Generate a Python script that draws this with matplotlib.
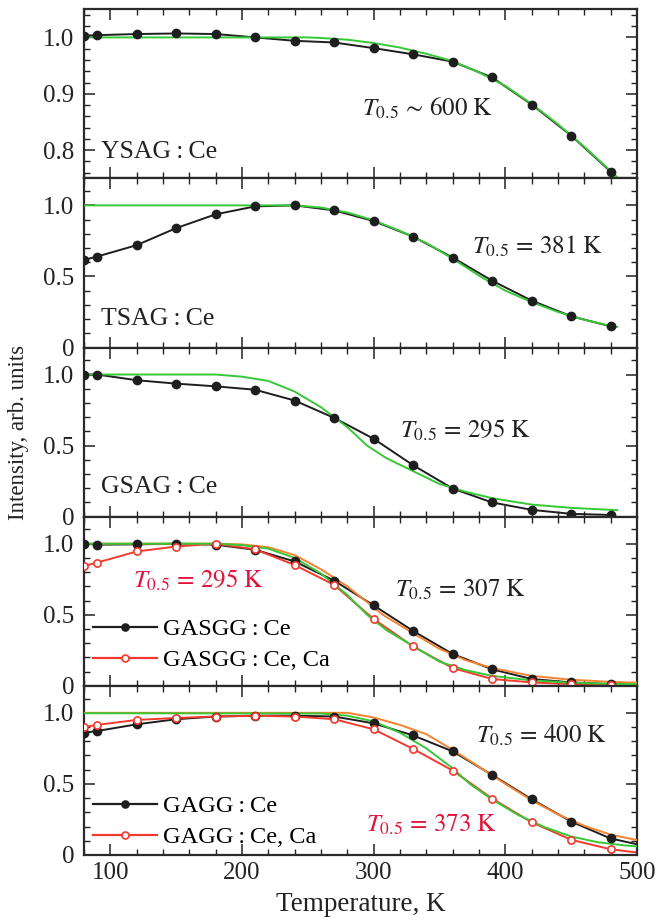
import matplotlib

matplotlib.use("Agg")
import matplotlib.pyplot as plt
from matplotlib.ticker import MultipleLocator

plt.rcParams["font.family"] = ["Liberation Serif", "DejaVu Serif"]
plt.rcParams["mathtext.fontset"] = "stix"

# measurement temperatures, K
T_DATA = [80, 90, 120, 150, 180, 210, 240, 270, 300, 330, 360, 390, 420, 450, 480]
T_EXT = T_DATA + [510]

# normalised intensity, measured
YSAG = [1.003, 1.004, 1.006, 1.007, 1.006, 1.000, 0.994, 0.991, 0.981, 0.970,
        0.957, 0.929, 0.881, 0.826, 0.762]
TSAG = [0.616, 0.64, 0.72, 0.84, 0.937, 0.993, 1.0, 0.965, 0.89, 0.78,
        0.633, 0.47, 0.33, 0.22, 0.149]
GSAG = [1.0, 1.0, 0.96, 0.936, 0.917, 0.893, 0.817, 0.695, 0.548, 0.362,
        0.198, 0.10, 0.048, 0.02, 0.012]
GASGG = [1.0, 0.993, 0.995, 1.0, 0.993, 0.957, 0.875, 0.74, 0.566, 0.386,
         0.224, 0.116, 0.048, 0.024, 0.012]
GASGG_CA = [0.843, 0.867, 0.945, 0.98, 1.0, 0.96, 0.85, 0.71, 0.47, 0.277,
            0.125, 0.048, 0.024, 0.012, 0.007]
GAGG = [0.86, 0.872, 0.919, 0.955, 0.974, 0.98, 0.98, 0.974, 0.926, 0.841,
        0.729, 0.563, 0.392, 0.235, 0.116, 0.055]
GAGG_CA = [0.90, 0.915, 0.95, 0.964, 0.974, 0.979, 0.974, 0.955, 0.884, 0.746,
           0.594, 0.397, 0.23, 0.107, 0.04, 0.006]

# fitted curves
YSAG_FIT_T = [80, 150, 250, 260, 280, 300, 320, 340, 360, 380, 400, 420, 440, 460, 480, 485]
YSAG_FIT = [1.0, 1.0, 1.0, 0.999, 0.996, 0.99, 0.982, 0.971, 0.958, 0.938,
            0.914, 0.882, 0.846, 0.806, 0.763, 0.752]
TSAG_FIT_T = [80, 200, 240, 260, 280, 300, 320, 340, 360, 381, 400, 420, 440, 460, 480, 485]
TSAG_FIT = [1.0, 1.0, 1.0, 0.985, 0.95, 0.895, 0.82, 0.735, 0.625, 0.5,
            0.40, 0.32, 0.25, 0.195, 0.152, 0.145]
GSAG_FIT_T = [80, 180, 200, 220, 240, 260, 280, 295, 310, 330, 350, 370, 390, 420, 450, 480, 485]
GSAG_FIT = [1.0, 1.0, 0.985, 0.955, 0.88, 0.77, 0.63, 0.5, 0.41, 0.32,
            0.23, 0.175, 0.13, 0.085, 0.062, 0.048, 0.046]
GASGG_CA_FIT_T = [80, 180, 200, 220, 240, 260, 280, 295, 310, 330, 350, 370, 390, 420, 450, 480, 500]
GASGG_CA_FIT = [1.0, 1.0, 0.99, 0.965, 0.9, 0.79, 0.64, 0.5, 0.39, 0.28,
                0.17, 0.11, 0.07, 0.038, 0.022, 0.014, 0.011]
GASGG_FIT_T = [80, 180, 200, 220, 240, 260, 280, 307, 330, 350, 370, 390, 420, 450, 480, 500]
GASGG_FIT = [1.0, 1.0, 0.995, 0.975, 0.92, 0.82, 0.70, 0.5, 0.37, 0.26,
             0.18, 0.125, 0.07, 0.043, 0.028, 0.022]
GAGG_CA_FIT_T = [80, 260, 280, 300, 320, 340, 360, 373, 390, 410, 430, 450, 470, 490, 500]
GAGG_CA_FIT = [0.997, 0.995, 0.98, 0.94, 0.86, 0.75, 0.61, 0.5, 0.39, 0.28,
               0.195, 0.13, 0.09, 0.068, 0.06]
GAGG_FIT_T = [80, 280, 300, 320, 340, 360, 380, 400, 420, 440, 460, 480, 500]
GAGG_FIT = [1.0, 1.0, 0.967, 0.915, 0.85, 0.74, 0.62, 0.5, 0.385, 0.285,
            0.205, 0.143, 0.105]

BLACK = "#1e1e1e"
TEXT = "#222222"
RED = "#f23a2e"
GREEN = "#36c836"
ORANGE = "#f5832f"
RED_TEXT = "#e0143c"
TICK_FS = 18
LABEL_FS = 18.5
NOTE_FS = 18


def data_line(ax, t, y, color, filled, label=None):
    ax.plot(t, y, color=color, lw=1.4, zorder=2)
    ax.plot(t, y, ls="none", marker="o", ms=5.8 if filled else 5.2,
            mfc=color if filled else "white", mec=color, mew=1.2, zorder=4)
    if label:
        ax.plot([], [], color=color, lw=1.6, marker="o", ms=5,
                mfc=color if filled else "white", mec=color, mew=1.2, label=label)


def fit_line(ax, t, y, color):
    ax.plot(t, y, color=color, lw=1.4, zorder=3)


def t05(value, sym="="):
    op = r"{\sim}" if sym == "~" else "{=}"
    return r"$T_{0.5}\," + op + r"\," + str(value) + r"\ \mathrm{K}$"


fig, axes = plt.subplots(5, 1, figsize=(6.56, 9.22), sharex=True)
fig.subplots_adjust(left=0.128, right=0.971, top=0.990, bottom=0.0727, hspace=0)

ax1, ax2, ax3, ax4, ax5 = axes

data_line(ax1, T_DATA, YSAG, BLACK, True)
fit_line(ax1, YSAG_FIT_T, YSAG_FIT, GREEN)
data_line(ax2, T_DATA, TSAG, BLACK, True)
fit_line(ax2, TSAG_FIT_T, TSAG_FIT, GREEN)
data_line(ax3, T_DATA, GSAG, BLACK, True)
fit_line(ax3, GSAG_FIT_T, GSAG_FIT, GREEN)

data_line(ax4, T_DATA, GASGG, BLACK, True, "GASGG\u2009:\u2009Ce")
data_line(ax4, T_DATA, GASGG_CA, RED, False, "GASGG\u2009:\u2009Ce, Ca")
fit_line(ax4, GASGG_FIT_T, GASGG_FIT, ORANGE)
fit_line(ax4, GASGG_CA_FIT_T, GASGG_CA_FIT, GREEN)

data_line(ax5, T_EXT, GAGG, BLACK, True, "GAGG\u2009:\u2009Ce")
data_line(ax5, T_EXT, GAGG_CA, RED, False, "GAGG\u2009:\u2009Ce, Ca")
fit_line(ax5, GAGG_FIT_T, GAGG_FIT, ORANGE)
fit_line(ax5, GAGG_CA_FIT_T, GAGG_CA_FIT, GREEN)

# axes ranges and ticks
ax1.set_ylim(0.75, 1.05)
ax1.set_yticks([0.8, 0.9, 1.0])
ax1.set_yticklabels(["0.8", "0.9", "1.0"])
ax1.yaxis.set_minor_locator(MultipleLocator(0.02))
for ax in axes[1:]:
    ax.set_ylim(0, 1.19)
    ax.set_yticks([0, 0.5, 1.0])
    ax.set_yticklabels(["0", "0.5", "1.0"])
    ax.yaxis.set_minor_locator(MultipleLocator(0.1))

for ax in axes:
    ax.set_xlim(80, 500)
    ax.xaxis.set_major_locator(MultipleLocator(100))
    ax.xaxis.set_minor_locator(MultipleLocator(20))
    ax.tick_params(which="both", direction="in", top=True, right=True,
                   labelsize=TICK_FS, colors=TEXT)
    ax.tick_params(which="major", length=8, width=1.1, pad=7)
    ax.tick_params(which="minor", length=4.5, width=1.0)
    ax.tick_params(axis="x", pad=5)
    for sp in ax.spines.values():
        sp.set_linewidth(1.6)
        sp.set_color("#2a2a2a")

# labels inside panels
ax1.text(93, 0.796, "YSAG\u2009:\u2009Ce", fontsize=LABEL_FS, va="center", color=TEXT)
ax2.text(93, 0.204, "TSAG\u2009:\u2009Ce", fontsize=LABEL_FS, va="center", color=TEXT)
ax3.text(93, 0.212, "GSAG\u2009:\u2009Ce", fontsize=LABEL_FS, va="center", color=TEXT)

ax1.text(291, 0.874, t05(600, "~"), fontsize=NOTE_FS, va="center", color=TEXT)
ax2.text(375, 0.711, t05(381), fontsize=NOTE_FS, va="center", color=TEXT)
ax3.text(320, 0.605, t05(295), fontsize=NOTE_FS, va="center", color=TEXT)
ax4.text(316, 0.672, t05(307), fontsize=NOTE_FS, va="center", color=TEXT)
ax4.text(117, 0.742, t05(295), fontsize=NOTE_FS, va="center", color=RED_TEXT)
ax5.text(378, 0.84, t05(400), fontsize=NOTE_FS, va="center", color=TEXT)
ax5.text(294, 0.21, t05(373), fontsize=NOTE_FS, va="center", color=RED_TEXT)

for ax, y0 in ((ax4, 0.035), (ax5, -0.01)):
    ax.legend(loc="lower left", bbox_to_anchor=(0, y0), frameon=False,
              fontsize=17.6, handlelength=2.65, handletextpad=0.22, numpoints=1,
              labelspacing=0.36, borderaxespad=0, borderpad=0.35)

ax5.set_xlabel("Temperature, K", fontsize=19.5, labelpad=6, color=TEXT)
fig.text(0.028, 0.531, "Intensity, arb. units", rotation=90, fontsize=16.5,
         ha="center", va="center", color=TEXT)

fig.savefig("out.png", dpi=100, facecolor="white")
